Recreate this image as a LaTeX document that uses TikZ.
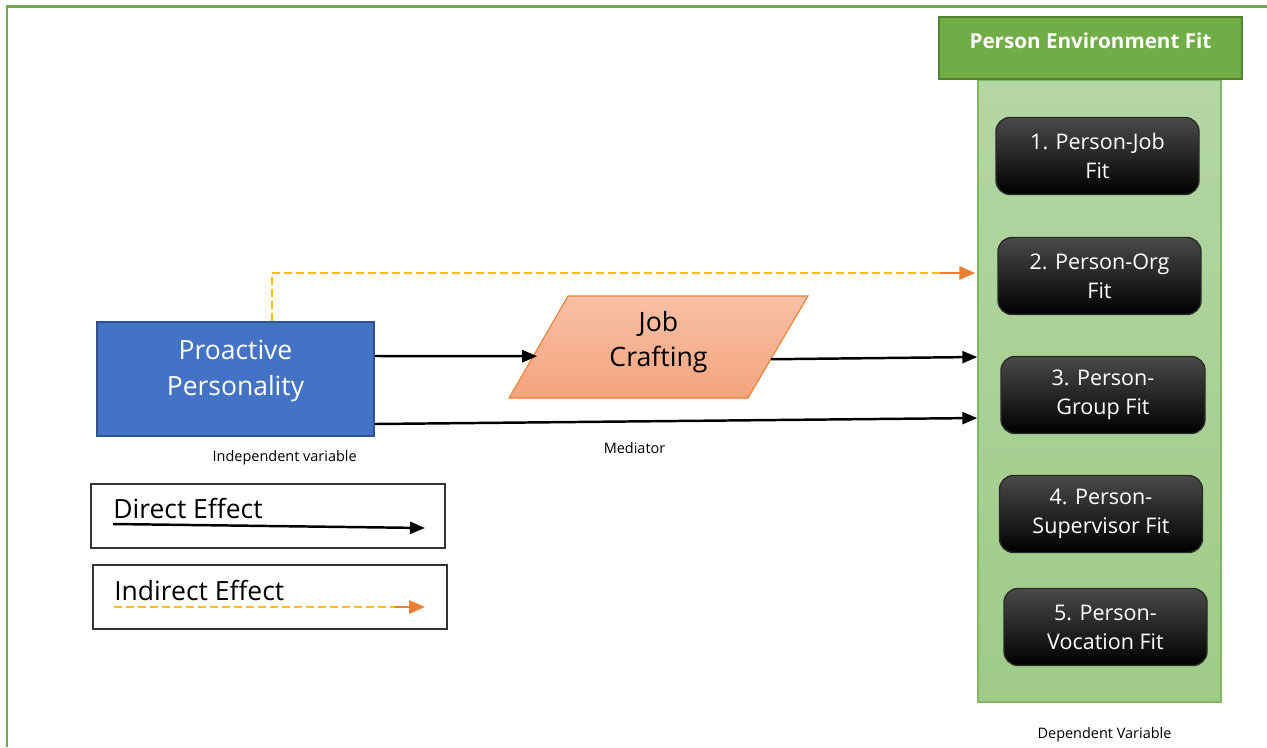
\documentclass[tikz,border=0pt]{standalone}
\usepackage{fontspec}
\setmainfont{Open Sans}
\usetikzlibrary{arrows.meta,calc}
% one unit of the drawing grid, as a factor usable inside pgfmath
\def\px{*0.5669pt}
\definecolor{frameg}{HTML}{70AD47}
\definecolor{titleg}{HTML}{70AD47}
\definecolor{titleb}{HTML}{548235}
\definecolor{colt}{HTML}{B4D6A4}
\definecolor{colb}{HTML}{9FCB87}
\definecolor{colline}{HTML}{82B864}
\definecolor{ppfill}{HTML}{4472C4}
\definecolor{ppline}{HTML}{2F528F}
\definecolor{jct}{HTML}{F7C0A6}
\definecolor{jcb}{HTML}{F4A47D}
\definecolor{jcline}{HTML}{ED7D31}
\definecolor{dashy}{HTML}{FFC000}
\definecolor{tipo}{HTML}{ED7D31}
\definecolor{boxtop}{HTML}{4A4A4A}
\definecolor{boxline}{HTML}{2A2A2A}
\tikzset{
  fitbox/.style={draw=boxline, line width=0.8pt, rounded corners=8pt,
    top color=boxtop, middle color=black, bottom color=black,
    minimum width=203\px, minimum height=77\px, inner sep=0pt,
    text=white, align=center, font=\fontsize{12.2}{16.4}\selectfont},
  legbox/.style={draw=black!80, line width=0.7pt, minimum width=354\px,
    minimum height=64\px, inner sep=0pt},
  smalltxt/.style={font=\fontsize{8.2}{10}\selectfont, anchor=base, inner sep=0pt},
  legtxt/.style={anchor=base west, inner sep=0pt, font=\fontsize{15}{18}\selectfont},
  direct/.style={line width=1.4pt, -{Triangle[length=8.5pt,width=6.8pt]}},
  indirect/.style={line width=1.1pt, dashy, dash pattern=on 4.5pt off 2.3pt},
  orangetip/.style={line width=1.4pt, tipo, -{Triangle[length=9pt,width=7.4pt]}},
}
\begin{document}
\begin{tikzpicture}[x=0.5669pt,y=-0.5669pt]
\useasboundingbox (0,0) rectangle (1267,747);
% page frame
\draw[frameg, line width=1.2pt] (7,747) -- (7,6.5) -- (1267,6.5);

% dependent variable column
\node[draw=colline, line width=0.8pt, top color=colt, bottom color=colb,
  minimum width=243\px, minimum height=622\px, inner sep=0pt] (pecol) at (1099.5,391) {};
\node[draw=titleb, line width=1.4pt, fill=titleg, minimum width=303\px,
  minimum height=62\px, inner sep=0pt] (petitle) at (1090.5,48) {};
\node[anchor=base, inner sep=0pt, text=white, font=\bfseries\fontsize{11.7}{14}\selectfont]
  (petitletxt) at (1090.5,48) {Person Environment Fit};

\node[fitbox] (f1) at (1097.5,156) {1. Person-Job\\Fit};
\node[fitbox] (f2) at (1099.5,276) {2. Person-Org\\Fit};
\node[fitbox, minimum width=204\px] (f3) at (1103,395) {3. Person-\\Group Fit};
\node[fitbox] (f4) at (1101,514) {4. Person-\\Supervisor Fit};
\node[fitbox] (f5) at (1105.5,627) {5. Person-\\Vocation Fit};

% independent variable
\node[draw=ppline, line width=1.2pt, fill=ppfill, minimum width=277\px,
  minimum height=114\px, inner sep=0pt] (pp) at (235.5,379) {};
\node[text=white, align=center, inner sep=0pt,
  font=\fontsize{15}{19.9}\selectfont] (pptxt) at (235.5,371) {Proactive\\Personality};

% mediator: parallelogram
\coordinate (jcTL) at (568,296);
\coordinate (jcTR) at (808,296);
\coordinate (jcBR) at (748,398);
\coordinate (jcBL) at (509,398);
\draw[jcline, line width=0.6pt, top color=jct, bottom color=jcb]
  (jcTL) -- (jcTR) -- (jcBR) -- (jcBL) -- cycle;
\node[align=center, inner sep=0pt, font=\fontsize{15.1}{19.9}\selectfont]
  (jc) at (658.5,342) {Job\\Crafting};
\coordinate (jcin) at ($(jcBL)!0.41!(jcTL)$);
\coordinate (jcout) at ($(jcBR)!0.38!(jcTR)$);

% captions
\node[smalltxt] (ivtxt) at (284.7,461.5) {Independent variable};
\node[smalltxt] (medtxt) at (634.5,453) {Mediator};
\node[smalltxt] (dvtxt) at (1104.5,738) {Dependent Variable};

% effects
\draw[direct] ([yshift=23\px]pp.east) -- ([xshift=4\px]jcin);
\draw[direct] (jcout) -- ([yshift=34\px]pecol.west);
\draw[direct] ([yshift=-45\px]pp.east) -- ([yshift=-27\px]pecol.west);
\coordinate (ind) at ([xshift=-2\px,yshift=118\px]pecol.west);
\draw[indirect] ([xshift=36.5\px]pp.north) |- ([xshift=-6\px]ind);
\draw[orangetip] ([xshift=-35\px]ind) -- (ind);

% legend
\node[legbox] (leg1) at (268,516) {};
\node[legtxt] (leg1txt) at (113,518) {Direct Effect};
\coordinate (d1s) at (113,524);
\coordinate (d1e) at (425,528);
\draw[direct] (d1s) -- (d1e);

\node[legbox] (leg2) at (270,597) {};
\node[legtxt] (leg2txt) at (114,600) {Indirect Effect};
\coordinate (d2s) at (114,607);
\coordinate (d2e) at (425,607);
\draw[indirect] (d2s) -- ([xshift=-6\px]d2e);
\draw[orangetip] ([xshift=-30\px]d2e) -- (d2e);
\end{tikzpicture}
\end{document}
